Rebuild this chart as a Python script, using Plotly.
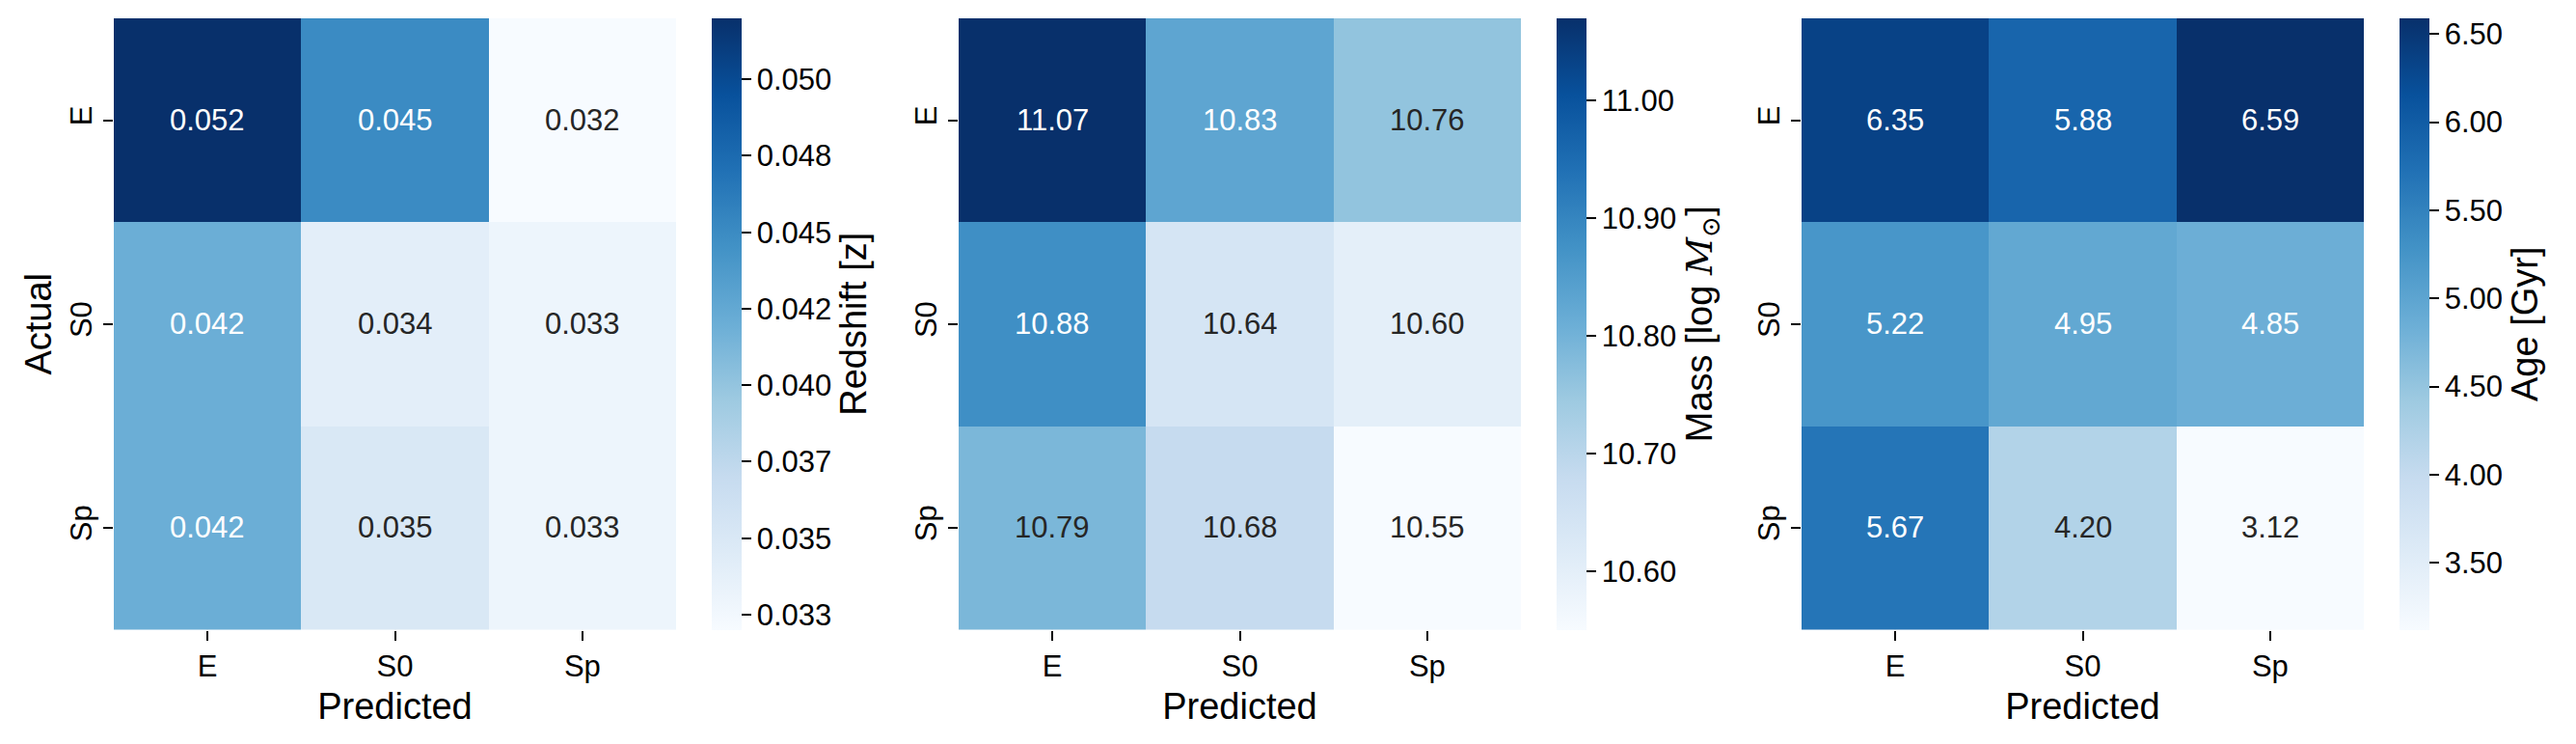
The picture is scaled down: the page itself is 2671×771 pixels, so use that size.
import plotly.graph_objects as go
from plotly.subplots import make_subplots
from plotly.colors import sequential

classes = ["E", "S0", "Sp"]

# rows = actual, columns = predicted
redshift = [[0.052, 0.045, 0.032],
            [0.042, 0.034, 0.033],
            [0.042, 0.035, 0.033]]
mass = [[11.07, 10.83, 10.76],
        [10.88, 10.64, 10.60],
        [10.79, 10.68, 10.55]]
age = [[6.35, 5.88, 6.59],
       [5.22, 4.95, 4.85],
       [5.67, 4.20, 3.12]]

redshift_ticks = [0.0325, 0.035, 0.0375, 0.040, 0.0425, 0.045, 0.0475, 0.050]
redshift_ticktext = ["0.033", "0.035", "0.037", "0.040", "0.042", "0.045", "0.048", "0.050"]
mass_ticks = [10.60, 10.70, 10.80, 10.90, 11.00]
age_ticks = [3.5, 4.0, 4.5, 5.0, 5.5, 6.0, 6.5]

W, H = 2671, 771
FONT = "Liberation Sans, Arial, Helvetica, sans-serif"
blues = sequential.Blues


def parse_rgb(c):
    return [int(v) for v in c[c.index("(") + 1:-1].split(",")]


def blues_at(t):
    n = len(blues) - 1
    t = min(max(t, 0), 1)
    i = min(int(t * n), n - 1)
    f = t * n - i
    a, b = parse_rgb(blues[i]), parse_rgb(blues[i + 1])
    return [a[k] + (b[k] - a[k]) * f for k in range(3)]


def text_color(v, lo, hi):
    # same rule seaborn uses for annotation colour
    rgb = [c / 255 for c in blues_at((v - lo) / (hi - lo))]
    lin = [c / 12.92 if c <= 0.03928 else ((c + 0.055) / 1.055) ** 2.4 for c in rgb]
    lum = 0.2126 * lin[0] + 0.7152 * lin[1] + 0.0722 * lin[2]
    return "#262626" if lum > 0.408 else "white"


panels = [
    (redshift, "{:.3f}", "Redshift [z]", redshift_ticks, redshift_ticktext),
    (mass, "{:.2f}", 'Mass [log <span style="font-family:DejaVu Serif"><i>M</i><sub>⊙</sub></span>]',
     mass_ticks, ["%.2f" % t for t in mass_ticks]),
    (age, "{:.2f}", "Age [Gyr]", age_ticks, ["%.2f" % t for t in age_ticks]),
]

# pixel layout
heat_left = [118, 994, 1868]
heat_w = 583
cbar_gap = 37
top, bottom = 19, 652.5

fig = make_subplots(rows=1, cols=3)
annotations = []

for k, (z, fmt, ctitle, tvals, ttext) in enumerate(panels):
    lo = min(min(r) for r in z)
    hi = max(max(r) for r in z)
    cbar_x = (heat_left[k] + heat_w + cbar_gap) / W
    fig.add_trace(go.Heatmap(
        z=z, x=classes, y=classes,
        colorscale=[[i / (len(blues) - 1), c] for i, c in enumerate(blues)],
        zmin=lo, zmax=hi, xgap=0, ygap=0,
        hoverinfo="skip",
        colorbar=dict(
            x=cbar_x, xanchor="left", xpad=0, ypad=0,
            y=1 - (top + bottom) / 2 / H, yanchor="middle",
            len=(bottom - top) / H, lenmode="fraction",
            thickness=31, outlinewidth=0,
            ticks="outside", ticklen=10, tickwidth=2, tickcolor="black",
            tickvals=tvals, ticktext=ttext,
            tickfont=dict(family=FONT, size=31, color="black"),
            title=dict(text=ctitle, side="right", font=dict(family=FONT, size=38, color="black")),
        ),
    ), row=1, col=k + 1)

    xa = "x" if k == 0 else f"x{k + 1}"
    ya = "y" if k == 0 else f"y{k + 1}"
    for i, row in enumerate(z):
        for j, v in enumerate(row):
            annotations.append(dict(
                x=classes[j], y=classes[i], xref=xa, yref=ya,
                text=fmt.format(v), showarrow=False,
                font=dict(family=FONT, size=31, color=text_color(v, lo, hi)),
            ))

    axis_common = dict(showgrid=False, zeroline=False, showline=False,
                       ticks="outside", ticklen=10, tickwidth=2, tickcolor="black",
                       tickfont=dict(family=FONT, size=31, color="black"))
    fig.update_xaxes(domain=[heat_left[k] / W, (heat_left[k] + heat_w) / W],
                     title=dict(text="Predicted", font=dict(family=FONT, size=38, color="black"),
                                standoff=11),
                     row=1, col=k + 1, **axis_common)
    fig.update_yaxes(domain=[1 - bottom / H, 1 - top / H], autorange="reversed",
                     tickangle=-90, row=1, col=k + 1, **axis_common)

fig.update_yaxes(title=dict(text="Actual", font=dict(family=FONT, size=38, color="black"), standoff=1),
                 row=1, col=1)

fig.update_layout(
    width=W, height=H,
    margin=dict(l=0, r=0, t=0, b=0, autoexpand=False),
    paper_bgcolor="white", plot_bgcolor="white",
    annotations=annotations,
    font=dict(family=FONT, color="black"),
)

fig.write_html("out.html", config={"displayModeBar": False},
               post_script="document.body.style.margin='0px';")
